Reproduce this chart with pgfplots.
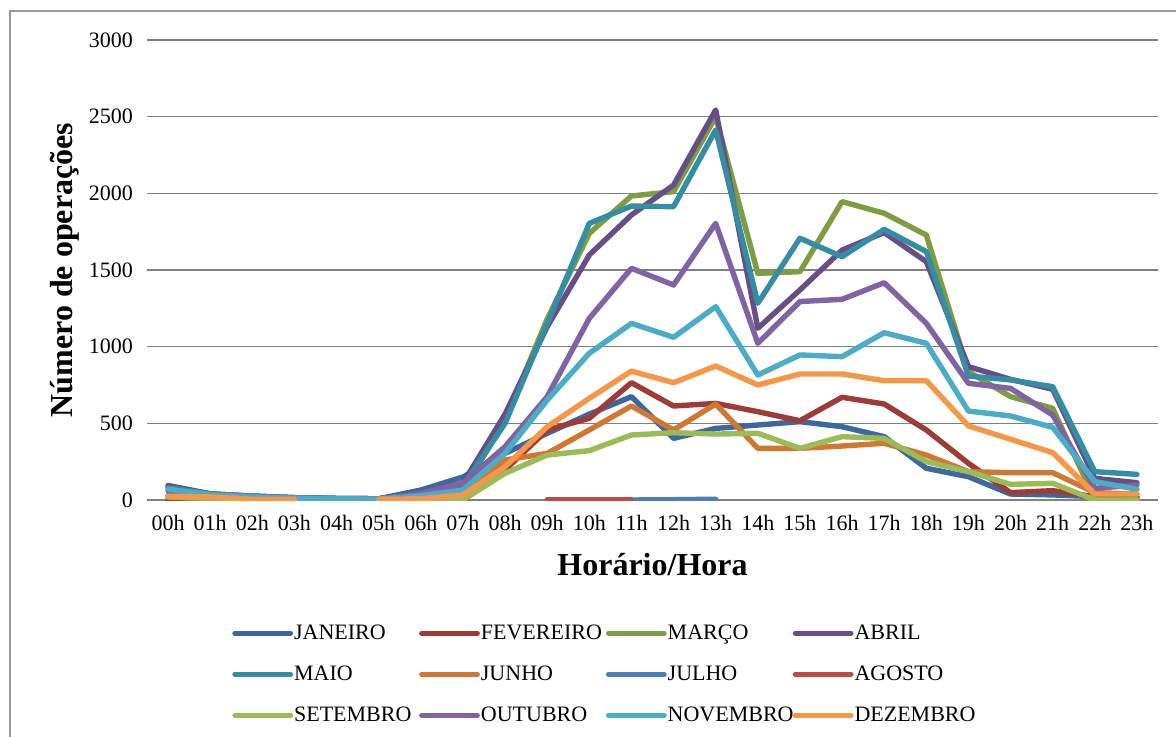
\documentclass[border=0pt]{standalone}
\usepackage{fontspec}
\setmainfont{Liberation Serif}
\usepackage{pgfplots}
\usepackage{pgfplotstable}
\pgfplotsset{compat=1.18}

\definecolor{cjan}{HTML}{3C67A0}
\definecolor{cfev}{HTML}{9E3B39}
\definecolor{cmar}{HTML}{7E9C42}
\definecolor{cabr}{HTML}{674F86}
\definecolor{cmai}{HTML}{348DA3}
\definecolor{cjun}{HTML}{CF7832}
\definecolor{cjul}{HTML}{4A7EBB}
\definecolor{cago}{HTML}{BE4B48}
\definecolor{cset}{HTML}{9BBB59}
\definecolor{cout}{HTML}{7F63A2}
\definecolor{cnov}{HTML}{4BACC6}
\definecolor{cdez}{HTML}{F79646}
\definecolor{grade}{HTML}{808080}

% operacoes por hora, um mes por coluna (nan = sem dado)
\pgfplotstableread{
h  jan fev mar  abr  mai  jun jul ago set out  nov  dez
0  90  5   30   95   80   20  nan nan 20  60   70   25
1  40  5   15   40   40   10  nan nan 10  35   35   20
2  25  3   10   25   25   5   nan nan 5   25   20   5
3  15  2   8    15   15   3   nan nan 3   15   12   5
4  10  2   5    10   10   2   nan nan 2   10   8    nan
5  8   2   5    8    8    2   nan nan 2   8    6    5
6  65  5   15   40   30   10  nan nan 5   43   28   8
7  150 20  60   110  90   40  nan nan 0   110  65   33
8  304 196 520  560  500  261 nan nan 174 348  304  217
9  435 457 1180 1130 1150 304 nan 0   293 674  652  478
10 560 533 1739 1598 1804 457 nan 0   322 1185 957  663
11 674 765 1983 1859 1917 613 0   0   424 1511 1152 841
12 402 613 2011 2054 1913 457 2   nan 439 1402 1061 765
13 467 630 2500 2544 2413 626 5   nan 430 1804 1261 874
14 489 576 1478 1120 1283 337 nan nan 435 1022 815  750
15 511 517 1489 1370 1707 337 nan nan 337 1294 946  822
16 478 670 1946 1630 1587 352 nan nan 413 1309 935  822
17 413 626 1870 1744 1765 370 nan nan 402 1417 1091 778
18 207 457 1728 1554 1620 293 nan nan 250 1152 1022 778
19 152 239 837  870  809  185 nan nan 185 761  580  483
20 39  48  674  787  783  178 nan nan 102 728  548  396
21 33  61  598  722  739  178 nan nan 109 554  474  309
22 22  22  4    141  185  48  nan nan 0   76   120  39
23 17  20  4    113  167  39  nan nan 0   98   70   39
}\dados

\begin{document}
\begin{tikzpicture}
\useasboundingbox (0,0) rectangle (588pt,-368.5pt);
\draw[grade!80, line width=0.6pt] (5pt,-5.5pt) rectangle (700pt,-500pt);
\begin{axis}[
  at={(73.5pt,-250pt)}, anchor=south west,
  scale only axis,
  width=505.5pt, height=230pt,
  xmin=-0.5, xmax=23.5,
  ymin=0, ymax=3000,
  xtick={0,...,23},
  xticklabels={00h,01h,02h,03h,04h,05h,06h,07h,08h,09h,10h,11h,12h,13h,14h,15h,16h,17h,18h,19h,20h,21h,22h,23h},
  ytick={0,500,...,3000},
  ymajorgrids,
  grid style={grade, line width=0.75pt},
  axis line style={draw=none},
  major tick length=0pt,
  /pgf/number format/assume math mode=true,
  /pgf/number format/1000 sep={},
  tick label style={font=\fontsize{11}{13}\selectfont},
  yticklabel style={xshift=-3.5pt},
  xticklabel style={yshift=-4pt},
  xlabel={Horário/Hora},
  ylabel={Número de operações},
  every axis x label/.style={at={(axis description cs:0.5,-0.141)}, anchor=center, font=\fontsize{16}{18}\selectfont\bfseries},
  every axis y label/.style={at={(axis description cs:-0.081,0.5)}, anchor=center, rotate=90, font=\fontsize{16}{18}\selectfont\bfseries},
  unbounded coords=jump,
  every axis plot/.append style={line width=2.7pt, line join=round, line cap=round, no markers},
  legend columns=4,
  legend image code/.code={\draw[#1, line width=2.4pt, line cap=round] (0pt,0pt) -- (28pt,0pt);},
  legend style={
    draw=none, fill=none, inner sep=0pt,
    at={(axis description cs:0.084,-0.267)}, anchor=north west,
    font=\fontsize{11}{12}\selectfont,
    row sep=10.5pt,
    nodes={inner sep=0pt, text height=8pt, text depth=2pt},
    /tikz/every odd column/.append style={column sep=0.5pt},
    /tikz/every even column/.append style={text width=62.5pt, align=left},
  },
]
\addplot[cjan] table[x=h, y=jan] {\dados};
\addlegendentry{JANEIRO}
\addplot[cfev] table[x=h, y=fev] {\dados};
\addlegendentry{FEVEREIRO}
\addplot[cmar] table[x=h, y=mar] {\dados};
\addlegendentry{MARÇO}
\addplot[cabr] table[x=h, y=abr] {\dados};
\addlegendentry{ABRIL}
\addplot[cmai] table[x=h, y=mai] {\dados};
\addlegendentry{MAIO}
\addplot[cjun] table[x=h, y=jun] {\dados};
\addlegendentry{JUNHO}
\addplot[cjul] table[x=h, y=jul] {\dados};
\addlegendentry{JULHO}
\addplot[cago] table[x=h, y=ago] {\dados};
\addlegendentry{AGOSTO}
\addplot[cset] table[x=h, y=set] {\dados};
\addlegendentry{SETEMBRO}
\addplot[cout] table[x=h, y=out] {\dados};
\addlegendentry{OUTUBRO}
\addplot[cnov] table[x=h, y=nov] {\dados};
\addlegendentry{NOVEMBRO}
\addplot[cdez] table[x=h, y=dez] {\dados};
\addlegendentry{DEZEMBRO}
\end{axis}
\end{tikzpicture}
\end{document}
